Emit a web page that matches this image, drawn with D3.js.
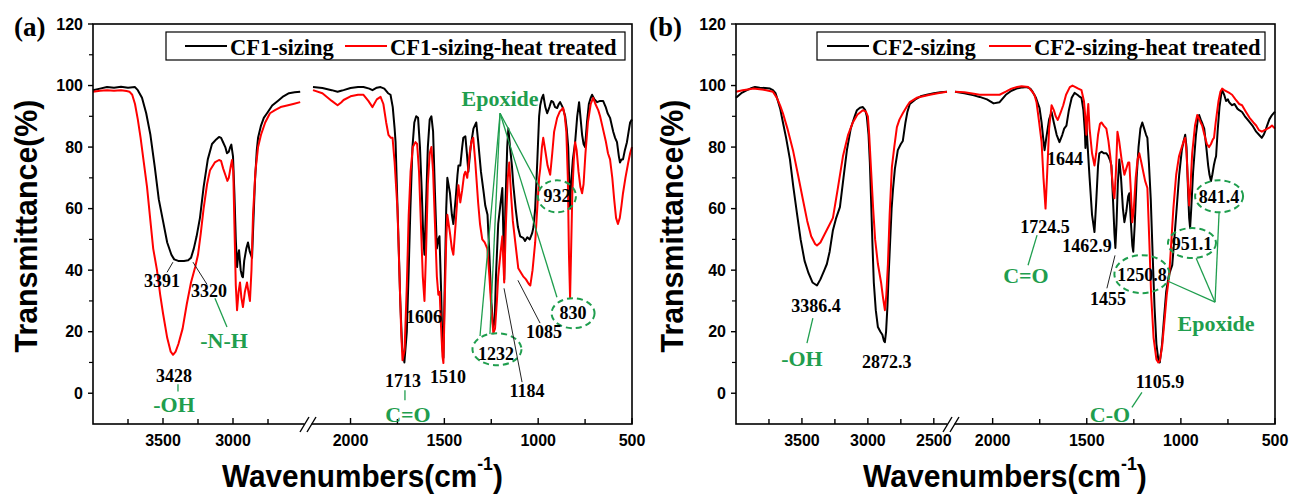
<!DOCTYPE html>
<html><head><meta charset="utf-8">
<script src="https://cdn.jsdelivr.net/npm/d3@7"></script>
<style>
html,body{margin:0;padding:0;background:#fff;}
svg{display:block;}
</style></head><body>
<svg id="c" width="1289" height="498"></svg>
<script>
// ---------------- DATA ----------------
// Panel (a): CF1-sizing (black) and CF1-sizing-heat treated (red); [wavenumber, transmittance]
const cf1SizingHigh = [[4000,98.5],[3950,99],[3900,99.5],[3850,99.3],[3800,99.6],[3750,99.3],[3700,99.5],[3680,98.5],[3650,96],[3620,91],[3590,84],[3560,74],[3530,63],[3500,56],[3470,49],[3440,45],[3420,43.5],[3391,43],[3350,43],[3320,43.2],[3300,44],[3280,47],[3260,51],[3236,57],[3210,67],[3180,76],[3150,81],[3120,82.5],[3100,83.3],[3085,83],[3070,81.5],[3055,80],[3043,78],[3030,78.5],[3020,80],[3012,80.8],[3000,77],[2990,65],[2980,50],[2971,41],[2963,45],[2957,46.5],[2945,40],[2935,38],[2929,37.7],[2920,43],[2905,47],[2893,49],[2880,46],[2864,44],[2855,55],[2843,69],[2830,79],[2821,83],[2800,87],[2780,89.5],[2757,91],[2720,93.5],[2680,95],[2640,96.5],[2600,97.5],[2560,97.8],[2520,98]];
const cf1HeatHigh = [[4000,98],[3950,98.3],[3900,98.5],[3850,98.3],[3800,98.5],[3760,98.2],[3740,98],[3720,97],[3700,94],[3680,89],[3660,83],[3640,76],[3614,67],[3590,56],[3570,47],[3543,40],[3520,32],[3500,26],[3470,18],[3445,13.5],[3428,12.5],[3410,13.5],[3390,16],[3360,21],[3330,29],[3300,36],[3270,41],[3250,45],[3230,52],[3210,60],[3185,68],[3164,72.5],[3130,75],[3100,75.8],[3085,75.5],[3070,73],[3055,71],[3040,69],[3030,70],[3015,74],[3007,75.8],[2998,72],[2990,55],[2980,35],[2971,27],[2960,33],[2950,36],[2940,31],[2929,28],[2915,33],[2900,36],[2890,33],[2879,30],[2868,40],[2857,58],[2840,72],[2821,80],[2800,84],[2770,88],[2736,91],[2700,92],[2660,93],[2614,93.5],[2570,94],[2520,94.6]];
const cf1SizingLow = [[2200,99.5],[2150,99.2],[2100,98.5],[2069,98],[2050,98.3],[2037,98.5],[2000,99.2],[1960,99.5],[1931,99.5],[1900,99],[1883,98.5],[1860,99.3],[1840,99.5],[1820,99],[1800,97.5],[1787,97],[1775,93],[1765,86],[1760,81.6],[1752,65],[1744,49],[1735,30],[1725,15],[1713,10],[1700,20],[1690,40],[1681,60],[1670,80],[1660,88],[1650,90],[1640,89.5],[1630,80],[1620,65],[1612,50],[1606,45],[1598,60],[1588,80],[1578,89],[1569,90],[1560,85],[1550,65],[1540,47],[1532,50],[1526,51],[1518,35],[1510,15],[1505,11.5],[1498,35],[1490,60],[1484,70],[1470,65],[1460,58],[1452,55],[1440,63],[1430,71],[1425,74],[1415,74],[1405,80],[1399,83],[1388,83.5],[1380,78],[1372,72],[1360,80],[1345,86],[1330,88],[1320,82],[1305,72],[1290,65],[1282,61],[1270,58],[1260,45],[1250,30],[1240,21.5],[1232,23],[1225,38],[1213,55],[1200,62],[1191,66.7],[1185,50],[1181,37],[1175,60],[1165,80],[1159,86],[1150,80],[1140,74],[1133,68],[1120,60],[1108,54],[1096,51],[1080,50.5],[1070,49.5],[1058,50.7],[1045,50],[1032,52],[1025,54],[1016,60],[1005,75],[995,90],[989,93.6],[980,96],[973,97],[962,93],[952,91],[940,93],[930,95],[920,94.6],[910,93],[899,92.7],[890,94],[883,94.6],[870,93],[856,90],[848,86],[840,80],[835,70],[830,60],[825,68],[815,76],[803,81.6],[792,90],[782,94.6],[775,90],[766,84],[758,81],[750,80],[740,88],[730,94],[720,96],[713,97],[700,95.5],[686,94.6],[670,95],[654,95],[640,93],[630,91],[617,89.5],[600,85],[590,83],[580,81.6],[570,77],[564,75],[556,76],[548,76],[538,79],[527,81.6],[518,85],[510,88],[500,89]];
const cf1HeatLow = [[2200,98.5],[2150,97.5],[2100,95],[2069,93.6],[2050,94.5],[2037,95.3],[2000,96.5],[1960,97],[1931,97],[1905,95],[1883,93],[1860,95.5],[1840,96.3],[1825,94],[1810,88],[1798,84],[1785,83],[1776,83],[1765,75],[1750,60],[1740,40],[1730,20],[1723,10.7],[1712,14],[1700,35],[1690,58],[1680,72],[1668,80],[1654,81.6],[1645,81],[1635,72],[1625,55],[1615,38],[1606,30],[1598,45],[1588,68],[1578,78],[1569,80],[1560,72],[1550,55],[1540,38],[1532,32],[1525,33],[1518,22],[1510,12],[1505,9.8],[1498,30],[1490,50],[1484,58],[1470,52],[1460,47],[1452,45],[1440,55],[1430,64],[1425,67.6],[1415,62],[1405,66],[1395,71],[1388,72],[1378,70],[1365,78],[1355,82],[1346,83],[1335,75],[1320,62],[1310,55],[1298,50],[1285,49],[1271,47],[1260,38],[1250,28],[1239,19.5],[1230,21],[1220,30],[1213,38],[1200,46],[1191,51],[1185,42],[1181,36],[1172,55],[1162,70],[1154,75],[1145,65],[1135,56],[1122,49],[1106,40.6],[1090,39],[1080,38],[1065,37],[1050,35.5],[1042,35],[1030,40],[1016,49],[1005,60],[995,70],[989,73],[980,80],[973,83],[960,78],[950,74],[936,71],[925,78],[915,85],[899,89.5],[885,91.5],[867,92.7],[858,90],[850,85],[842,70],[836,45],[830,31],[825,45],[818,65],[810,76],[803,81.6],[795,79],[785,72],[775,67],[766,65],[758,68],[748,78],[735,88],[720,94],[707,96],[695,94],[680,92],[670,90],[655,86],[640,82],[628,78],[617,76],[605,70],[595,63],[585,57],[575,55],[565,57],[556,61],[548,65],[535,70],[520,75],[510,78],[500,80]];

// Panel (b): CF2-sizing (black) and CF2-sizing-heat treated (red)
const cf2SizingHigh = [[4000,96],[3960,97.5],[3917,98.5],[3880,99.2],[3856,99.5],[3820,99.3],[3780,99.2],[3742,99],[3720,98.5],[3700,97.5],[3689,96],[3665,92.5],[3644,88],[3620,83],[3591,76],[3565,67],[3538,58.5],[3510,50],[3480,43],[3450,39],[3420,36],[3386,35],[3360,37],[3330,40],[3311,42],[3290,46],[3265,53],[3240,57],[3212,60.5],[3185,70],[3159,79],[3130,86],[3100,90],[3083,92],[3060,92.8],[3038,93],[3020,92],[3008,90],[2995,84],[2985,75],[2975,62],[2965,48],[2955,36],[2940,27],[2924,21.5],[2905,20],[2890,19],[2878,17],[2871,16.6],[2862,20],[2852,28],[2843,38],[2833,47.5],[2820,60],[2810,66],[2795,73],[2773,79],[2750,81],[2735,82],[2715,88],[2700,91.5],[2682,94],[2640,95.5],[2600,96.5],[2553,97],[2500,97.5],[2450,97.8],[2400,98]];
const cf2HeatHigh = [[4000,98],[3950,98.5],[3900,98.8],[3871,99],[3820,98.8],[3770,98.5],[3720,98],[3690,96],[3665,93.5],[3644,91],[3610,86],[3568,79],[3530,71],[3492,62.8],[3460,56],[3430,51],[3400,48.5],[3386,48],[3360,49],[3330,51.5],[3300,54],[3265,57],[3230,66],[3189,77],[3150,84],[3114,88],[3080,90.5],[3038,92],[3015,91.5],[3000,90],[2990,84],[2975,72],[2960,60],[2945,50],[2924,42],[2900,36],[2885,31],[2871,27],[2860,32],[2848,42],[2835,58],[2818,73.5],[2800,80],[2780,86.5],[2760,89],[2735,91],[2700,93.5],[2682,94.6],[2630,96],[2580,96.5],[2530,97],[2470,97.5],[2400,98]];
const cf2SizingLow = [[2200,98],[2150,97.5],[2100,96.8],[2069,96.3],[2030,95.5],[1995,94.2],[1963,94.6],[1930,97],[1900,98.3],[1873,99],[1840,99.4],[1820,99.5],[1800,99],[1788,98],[1770,96],[1751,92.7],[1740,88],[1730,82],[1724,79],[1715,83],[1700,89],[1687,91.4],[1675,88],[1660,84],[1645,81.6],[1630,84],[1620,86],[1608,87],[1595,92],[1580,96],[1565,97.6],[1550,97],[1540,96.5],[1528,96],[1518,92],[1510,85],[1507,79.7],[1502,88],[1497,82],[1485,70],[1472,58],[1459,52.4],[1450,62],[1440,74],[1433,78],[1420,78.5],[1410,78],[1396,78],[1385,77],[1375,75.5],[1369,74],[1360,62],[1353,52],[1348,47.2],[1342,55],[1335,68],[1327,76],[1318,70],[1308,60],[1300,55.6],[1290,59],[1280,64],[1274,65],[1265,55],[1258,48],[1253,46],[1245,55],[1235,70],[1225,80],[1215,86],[1205,88],[1195,86],[1185,84],[1178,83],[1170,75],[1160,63],[1150,45],[1140,28],[1130,16],[1120,11],[1112,10],[1100,16],[1090,24],[1078,33],[1065,38],[1055,40],[1046,41.6],[1035,50],[1020,62],[1009,71],[995,79],[985,82],[977,84],[970,80],[962,66],[956,57],[951,53.7],[945,60],[935,72],[920,84],[910,89],[903,90.4],[895,89],[885,87.5],[876,86],[865,80],[855,74],[848,71],[840,69],[833,71],[825,74],[818,76],[813,77],[805,85],[795,93],[785,97.5],[781,98.5],[770,97],[760,95],[750,95.5],[744,94.6],[735,94],[728,93.6],[715,94],[700,92.5],[690,92],[675,91.4],[660,90],[640,88.5],[620,87],[600,85],[585,84],[570,83],[560,84],[550,85.5],[542,87],[530,89],[516,90.4],[500,91.5]];
const cf2HeatLow = [[2200,98],[2150,97.8],[2100,97.3],[2069,97],[2030,97],[1995,97],[1963,97],[1930,98],[1900,99],[1870,99.5],[1846,99.8],[1810,99.5],[1790,98],[1778,97],[1767,94.6],[1755,89],[1740,81.6],[1730,70],[1719,60],[1710,72],[1700,86],[1687,93.6],[1675,92],[1665,90],[1654,88.8],[1640,91],[1625,93.6],[1610,97],[1590,99.5],[1576,100],[1560,99.5],[1545,99],[1528,98.5],[1515,95],[1508,90],[1502,84],[1497,90],[1492,94],[1485,86],[1472,78],[1459,74],[1450,78],[1440,84],[1430,87.5],[1422,88],[1410,87],[1396,86],[1385,82],[1375,77],[1369,73],[1360,66],[1353,63.4],[1345,72],[1337,85],[1328,82],[1315,76],[1300,71],[1290,73],[1280,75],[1274,75],[1266,66],[1258,55.6],[1250,60],[1240,70],[1230,76],[1221,78],[1210,75],[1200,72],[1190,69],[1178,66.7],[1168,50],[1158,32],[1145,18],[1130,11],[1120,10],[1112,10.5],[1100,15],[1085,25],[1075,32],[1062,38.4],[1050,50],[1040,60],[1025,71],[1010,77],[995,80],[985,82],[977,83],[970,78],[962,68],[956,61],[950,66],[940,78],[925,87],[913,90.4],[905,89.5],[895,88],[887,87],[875,84],[862,81],[850,80],[840,81],[830,82.5],[824,83],[815,88],[800,95],[790,98],[781,99],[770,98.5],[755,98],[740,97.5],[728,97],[710,95.5],[690,94],[675,93.6],[655,91.5],[635,89.5],[615,88],[600,87],[585,85.5],[570,85],[555,85.5],[540,86],[525,86.5],[516,87],[500,86]];

const legendA = ["CF1-sizing", "CF1-sizing-heat treated"];
const legendB = ["CF2-sizing", "CF2-sizing-heat treated"];
const yMajorTicks = [0, 20, 40, 60, 80, 100, 120];
const yMinorTicks = [10, 30, 50, 70, 90, 110];
const xMajorHighA = [3500, 3000];
const xMajorHighB = [3500, 3000, 2500];
const xMinorHigh = [3750, 3250, 2750];
const xMajorLow = [2000, 1500, 1000, 500];
const xMinorLow = [1750, 1250, 750];

// annotations: [text, wavenumber, transmittance, segment('H' high / 'L' low), colour('k'|'g')]
const notesA = [["3391",3507,34.4,"H","k"],["3320",3171,31.2,"H","k"],["-N-H",3064,14.6,"H","g"],["3428",3421,3.6,"H","k"],["-OH",3421,-6.2,"H","g"],
  ["1606",1608,22.8,"L","k"],["1713",1720,2.0,"L","k"],["1510",1481,3.3,"L","k"],["C=O",1694,-9.4,"L","g"],
  ["1232",1225,10.9,"L","k"],["1184",1060,-1.3,"L","k"],["1085",969,17.9,"L","k"],["830",814,24.2,"L","k"],["932",900,62.2,"L","k"],["Epoxide",1203,93.3,"L","g"]];
const leadersA = [["H",3429,42.6,3471,39.3,"k"],["H",3286,42.6,3186,35.4,"k"],["H",3129,30.9,3043,21.5,"g"],["H",3393,2.9,3393,0.6,"g"],
  ["L",1710,1.0,1710,-2.3,"g"],["L",1182,34.1,1086,3.6,"k"],["L",1108,36.7,990,22.8,"k"],
  ["L",1203,91.0,1310,18.6,"g"],["L",1203,91.0,1257,19.2,"g"],["L",1203,91.0,990,66.6,"g"],["L",1203,91.0,900,31.2,"g"]];
const ringsA = [["L",1219.5,14.3,24.5,16],["L",814,26,21.5,15],["L",900,64,19,16]];

const notesB = [["3386.4",3394,26.3,"H","k"],["-OH",3500,8.8,"H","g"],["2872.3",2856,8.1,"H","k"],
  ["1724.5",1722,52.0,"L","k"],["C=O",1823,35.8,"L","g"],["1644",1616,74.1,"L","k"],["1462.9",1499,45.8,"L","k"],["1455",1387,28.6,"L","k"],
  ["1250.8",1207,36.4,"L","k"],["951.1",941,46.5,"L","k"],["841.4",797,61.8,"L","k"],["Epoxide",813,20.2,"L","g"],["1105.9",1111,1.6,"L","k"],["C-O",1377,-9.4,"L","g"]];
const leadersB = [["H",3417,24.4,3462,16.3,"g"],["L",1764,51.4,1812,41.6,"g"],["L",1393,34.1,1350,44.8,"k"],
  ["L",818.5,29.6,1068,36.4,"g"],["L",818.5,29.6,919,43.9,"g"],["L",818.5,29.6,797,58.8,"g"],["L",1207,0.3,1260,-4.6,"g"]];
const ringsB = [["L",1207,38.7,27.5,19],["L",941,48.8,24,15],["L",797,64,24,16]];

// ---------------- DRAW ----------------
const svg = d3.select("#c");
const GREEN = "#1f9e4e", RED = "#ff0000";
const serif = "'Liberation Serif','Times New Roman',serif";
const sans = "'Liberation Sans',Arial,sans-serif";
const yTop = 24, yBot = 424;

function panel(cfg) {
  const g = svg.append("g");
  const y = d3.scaleLinear().domain([-10, 120]).range([yBot, yTop]);
  const xH = d3.scaleLinear().domain([4000, cfg.highEnd]).range([cfg.x0, cfg.xHighEnd]);
  const xL = d3.scaleLinear().domain([2200, 500]).range([cfg.xLowStart, cfg.x1]);
  const sx = s => s === "H" ? xH : xL;

  // spectra
  const lineH = d3.line().x(d => xH(d[0])).y(d => y(d[1]));
  const lineL = d3.line().x(d => xL(d[0])).y(d => y(d[1]));
  [[cfg.blackH, "#000", lineH], [cfg.blackL, "#000", lineL], [cfg.redH, RED, lineH], [cfg.redL, RED, lineL]].forEach(([d, c, l]) => {
    g.append("path").attr("d", l(d)).attr("fill", "none").attr("stroke", c).attr("stroke-width", 2).attr("stroke-linejoin", "round");
  });

  // frame
  g.append("rect").attr("x", cfg.x0).attr("y", yTop).attr("width", cfg.x1 - cfg.x0).attr("height", yBot - yTop)
    .attr("fill", "none").attr("stroke", "#000").attr("stroke-width", 1.6);

  // y ticks
  yMajorTicks.forEach(v => {
    g.append("line").attr("x1", cfg.x0 - 5).attr("x2", cfg.x0).attr("y1", y(v)).attr("y2", y(v)).attr("stroke", "#000").attr("stroke-width", 1.4);
    g.append("text").attr("x", cfg.x0 - 10).attr("y", y(v)).attr("dy", "0.36em").attr("text-anchor", "end")
      .style("font-family", sans).style("font-weight", "bold").style("font-size", "16px").text(v);
  });
  yMinorTicks.forEach(v => {
    g.append("line").attr("x1", cfg.x0 - 4).attr("x2", cfg.x0).attr("y1", y(v)).attr("y2", y(v)).attr("stroke", "#000").attr("stroke-width", 1.2);
  });

  // x ticks
  const xt = (scale, vals, len, label) => vals.forEach(v => {
    g.append("line").attr("x1", scale(v)).attr("x2", scale(v)).attr("y1", yBot).attr("y2", yBot - len).attr("stroke", "#000").attr("stroke-width", 1.4);
    if (label) g.append("text").attr("x", scale(v)).attr("y", yBot + 22).attr("text-anchor", "middle")
      .style("font-family", sans).style("font-weight", "bold").style("font-size", "16px").text(v);
  });
  xt(xH, cfg.majorHigh, 6, true); xt(xH, xMinorHigh, 5, false);
  xt(xL, xMajorLow, 6, true); xt(xL, xMinorLow, 5, false);

  // axis break
  const bc = (cfg.xHighEnd + cfg.xLowStart) / 2;
  g.append("rect").attr("x", bc - 3.5).attr("y", yBot - 2).attr("width", 7).attr("height", 4).attr("fill", "#fff");
  [-3.5, 3.5].forEach(o => g.append("line").attr("x1", bc + o - 4.5).attr("y1", yBot + 8).attr("x2", bc + o + 4.5).attr("y2", yBot - 7)
    .attr("stroke", "#000").attr("stroke-width", 1.4));

  // annotation rings
  cfg.rings.forEach(([s, wn, v, rx, ry]) => {
    g.append("ellipse").attr("cx", sx(s)(wn)).attr("cy", y(v)).attr("rx", rx).attr("ry", ry)
      .attr("fill", "none").attr("stroke", GREEN).attr("stroke-width", 2).attr("stroke-dasharray", "6,4");
  });
  // leaders
  cfg.leaders.forEach(([s, w1, v1, w2, v2, c]) => {
    g.append("line").attr("x1", sx(s)(w1)).attr("y1", y(v1)).attr("x2", sx(s)(w2)).attr("y2", y(v2))
      .attr("stroke", c === "g" ? GREEN : "#222").attr("stroke-width", c === "g" ? 1.3 : 1);
  });
  // notes
  cfg.notes.forEach(([t, wn, v, s, c]) => {
    g.append("text").attr("x", sx(s)(wn)).attr("y", y(v)).attr("text-anchor", "middle")
      .style("font-family", serif).style("font-weight", "bold").style("font-size", c === "g" ? "22px" : "18px")
      .attr("fill", c === "g" ? GREEN : "#000").text(t);
  });

  // legend
  const L = cfg.legend;
  g.append("rect").attr("x", L.x).attr("y", 32).attr("width", L.w).attr("height", 28).attr("fill", "#fff").attr("stroke", "#000").attr("stroke-width", 1.2);
  [[L.s1, "#000", L.names[0]], [L.s2, RED, L.names[1]]].forEach(([sx0, c, name]) => {
    g.append("line").attr("x1", sx0).attr("x2", sx0 + 42).attr("y1", 46).attr("y2", 46).attr("stroke", c).attr("stroke-width", 2);
    g.append("text").attr("x", sx0 + 45).attr("y", 54.5).style("font-family", serif).style("font-weight", "bold").style("font-size", "22.5px").text(name);
  });

  // panel letter
  g.append("text").attr("x", cfg.letterX).attr("y", 36).style("font-family", serif).style("font-weight", "bold").style("font-size", "27px").text(cfg.letter);

  // axis titles
  const yt = g.append("text").attr("text-anchor", "middle").style("font-family", sans).style("font-weight", "bold").style("font-size", "32px").text("Transmittance(%)");
  const yw = yt.node().getComputedTextLength();
  yt.attr("transform", `translate(${cfg.yTitleX},226) rotate(-90) scale(${253 / yw},1)`);

  const xtTitle = g.append("text").style("font-family", sans).style("font-weight", "bold").style("font-size", "32px");
  xtTitle.append("tspan").text("Wavenumbers(cm");
  xtTitle.append("tspan").attr("dy", -17).style("font-size", "19px").text("-1");
  xtTitle.append("tspan").attr("dy", 17).text(")");
  const xw = xtTitle.node().getBBox().width;
  xtTitle.attr("transform", `translate(${cfg.xTitleX},487) scale(${cfg.xTitleW / xw},1)`);
}

panel({ x0: 93, x1: 632, highEnd: 2500, xHighEnd: 303, xLowStart: 313, majorHigh: xMajorHighA,
  blackH: cf1SizingHigh, blackL: cf1SizingLow, redH: cf1HeatHigh, redL: cf1HeatLow,
  notes: notesA, leaders: leadersA, rings: ringsA,
  legend: { x: 166, w: 459, s1: 185, s2: 345, names: legendA },
  letter: "(a)", letterX: 14, yTitleX: 37, xTitleX: 222, xTitleW: 281 });

panel({ x0: 736, x1: 1275, highEnd: 2400, xHighEnd: 947, xLowStart: 955, majorHigh: xMajorHighB,
  blackH: cf2SizingHigh, blackL: cf2SizingLow, redH: cf2HeatHigh, redL: cf2HeatLow,
  notes: notesB, leaders: leadersB, rings: ringsB,
  legend: { x: 817, w: 448, s1: 827, s2: 989, names: legendB },
  letter: "(b)", letterX: 649, yTitleX: 683, xTitleX: 863, xTitleW: 284 });
</script>
</body></html>
